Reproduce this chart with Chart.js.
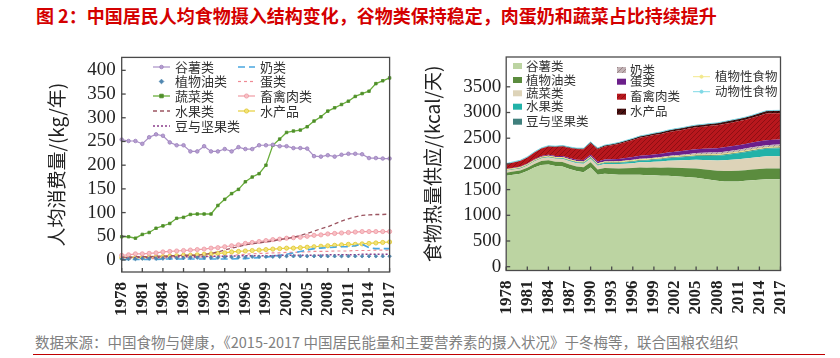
<!DOCTYPE html>
<html><head><meta charset="utf-8">
<script src="https://cdn.jsdelivr.net/npm/chart.js@4/dist/chart.umd.min.js"></script>
<style>
body{margin:0;width:840px;height:358px;background:#fff;position:relative;overflow:hidden;font-family:"Noto Sans CJK SC",sans-serif}
#title{position:absolute;left:36px;top:5px;line-height:20px;font-size:18px;font-weight:bold;color:#d40000;white-space:nowrap}
#src{position:absolute;left:35px;top:333px;line-height:18px;font-size:14.5px;color:#808080;white-space:nowrap}
#rule{position:absolute;left:33px;top:354px;width:792px;height:0;border-top:1.5px solid #c00000}
canvas{position:absolute;top:40px}
</style></head><body>
<div id="title">图 2：中国居民人均食物摄入结构变化，谷物类保持稳定，肉蛋奶和蔬菜占比持续提升</div>
<canvas id="c1" width="420" height="290" style="left:0"></canvas>
<canvas id="c2" width="420" height="290" style="left:420px"></canvas>
<div id="src">数据来源：中国食物与健康，《2015-2017 中国居民能量和主要营养素的摄入状况》于冬梅等，联合国粮农组织</div>
<div id="rule"></div>
<script>
// ---------- data ----------
const years = [1978,1979,1980,1981,1982,1983,1984,1985,1986,1987,1988,1989,1990,1991,1992,1993,1994,1995,1996,1997,1998,1999,2000,2001,2002,2003,2004,2005,2006,2007,2008,2009,2010,2011,2012,2013,2014,2015,2016,2017];
const leftTicks = [0,50,100,150,200,250,300,350,400];
const rightTicks = [0,500,1000,1500,2000,2500,3000,3500];

// left: kg per year
const grainKg  = [254,251,251,245,259,265,262,248,242,242,229,229,240,229,229,234,229,238,234,234,242,242,243,240,240,236,236,235,219,218,221,218,222,224,224,223,215,215,214,214];
const oilKg    = [2,2,2,3,3,3,3,4,4,4,5,5,5,5,5,6,6,6,6,7,7,7,7,7,8,8,8,8,8,8,8,8,8,8,8,8,8,8,8,8];
const vegKg    = [49,49,46,54,58,67,72,77,88,90,96,97,97,97,115,128,140,149,165,175,182,200,242,255,269,272,274,281,293,302,314,321,328,335,345,351,356,372,378,384];
const fruitKg  = [6,6,7,7,7,8,8,9,9,10,10,10,12,14,17,21,25,28,32,34,36,38,40,43,45,48,52,56,61,66,70,76,82,87,91,94,95,96,96,97];
const beanKg   = [5,5,5,6,6,6,6,7,7,7,7,7,8,8,8,8,8,9,9,9,9,9,9,10,10,10,10,10,10,10,11,11,11,11,11,12,12,12,12,12];
const milkKg   = [1,1,1,1,1,1,2,2,2,2,2,2,2,2,2,2,2,3,3,4,5,6,8,10,12,15,18,21,24,25,26,27,28,28,30,33,26,24,24,24];
const eggKg    = [2,2,2,3,3,3,4,5,5,6,6,6,7,7,8,9,10,11,12,13,14,14,15,15,16,16,17,17,18,18,18,19,19,19,20,20,20,21,21,21];
const meatKg   = [10,11,13,13,14,15,17,18,19,20,21,22,23,25,26,28,30,32,35,37,39,41,43,44,46,47,48,50,52,53,55,56,57,58,59,60,60,60,60,60];
const fishKg   = [5,5,5,5,6,6,7,8,9,10,10,11,12,13,14,15,17,18,19,20,21,22,23,24,25,25,26,27,28,29,30,31,32,33,33,34,35,36,37,38];

// right: kcal per day
const cerealK = [1770,1790,1810,1860,1930,1980,1990,1960,1950,1900,1860,1840,1930,1790,1810,1800,1790,1790,1790,1790,1780,1780,1770,1770,1760,1750,1740,1730,1710,1690,1670,1660,1660,1660,1670,1680,1690,1700,1700,1700];
const oilK    = [60,60,60,65,70,75,80,80,85,90,90,95,100,100,110,115,120,125,130,140,145,150,155,160,165,170,175,180,185,190,195,200,200,205,205,210,210,210,210,210];
const vegK    = [35,35,38,40,45,50,55,58,60,62,65,68,72,75,78,82,86,90,95,100,105,112,120,130,140,150,160,170,180,190,200,210,220,225,230,232,235,238,240,240];
const fruitK  = [5,5,5,6,6,7,8,9,10,11,12,13,15,16,18,20,22,25,28,32,36,40,45,50,55,60,66,72,78,85,92,100,108,115,122,130,138,145,150,155];
const beanK   = [18,18,18,18,18,18,19,19,19,19,19,20,20,20,20,20,20,21,21,21,21,21,22,22,22,22,22,22,23,23,23,23,23,24,24,24,24,25,25,25];
const milkK   = [5,5,5,5,6,6,7,7,8,8,9,9,10,10,11,12,13,14,15,16,17,18,20,22,25,28,32,36,40,42,44,45,46,47,48,48,48,47,47,47];
const eggK    = [10,11,12,13,15,17,20,22,24,26,28,30,32,35,38,42,46,50,54,58,62,64,66,68,70,72,74,76,78,80,82,84,86,88,90,92,94,96,98,100];
const meatK   = [95,105,112,118,130,145,160,175,185,195,205,210,225,240,255,270,290,310,330,350,365,375,385,395,405,410,420,425,430,440,445,455,460,465,470,480,500,520,515,510];
const fishK   = [10,10,10,11,12,13,14,15,16,18,19,20,22,23,25,27,29,31,33,35,37,38,39,40,41,42,43,44,45,46,47,48,49,50,51,52,53,54,55,55];
const plantK  = [1888,1908,1931,1989,2069,2130,2152,2126,2124,2082,2046,2036,2137,2001,2036,2037,2038,2051,2064,2083,2087,2103,2112,2132,2142,2152,2163,2174,2176,2178,2180,2193,2211,2229,2251,2276,2297,2318,2325,2330];
const animalK = [2008,2039,2070,2136,2232,2311,2353,2345,2357,2329,2307,2305,2426,2309,2365,2388,2416,2456,2496,2542,2568,2598,2622,2657,2683,2704,2732,2755,2769,2786,2798,2825,2852,2879,2910,2948,2992,3035,3040,3042];

// ---------- helpers ----------
const SERIF = "'Liberation Serif', 'DejaVu Serif', serif";
const CJK = "'Noto Sans CJK SC', sans-serif";
const labelCb = (v, i) => ((years[i] - 1978) % 3 === 0 ? String(years[i]) : '');

function marker(ctx, style, r, x, y, fill, stroke) {
  ctx.save(); ctx.setLineDash([]); ctx.fillStyle = fill; ctx.strokeStyle = stroke; ctx.lineWidth = 0.8;
  ctx.beginPath();
  if (style === 'rect') ctx.rect(x - r, y - r, 2 * r, 2 * r);
  else if (style === 'rectRot') { ctx.moveTo(x, y - r * 1.3); ctx.lineTo(x + r * 1.3, y); ctx.lineTo(x, y + r * 1.3); ctx.lineTo(x - r * 1.3, y); ctx.closePath(); }
  else ctx.arc(x, y, r, 0, Math.PI * 2);
  ctx.fill(); ctx.stroke(); ctx.restore();
}

const framePlugin = {
  id: 'frame',
  afterDatasetsDraw(chart) {
    const { ctx, chartArea: a, scales } = chart;
    ctx.save();
    ctx.strokeStyle = '#4a4a4a'; ctx.lineWidth = 1.3; ctx.setLineDash([]);
    ctx.strokeRect(a.left, a.top, a.right - a.left, a.bottom - a.top);
    scales.y.ticks.forEach(t => {
      const y = scales.y.getPixelForValue(t.value);
      ctx.beginPath(); ctx.moveTo(a.left, y); ctx.lineTo(a.left + 4, y); ctx.stroke();
    });
    years.forEach((yr, i) => {
      if ((yr - 1978) % 3 === 0) {
        const x = scales.x.getPixelForValue(i);
        ctx.beginPath(); ctx.moveTo(x, a.bottom); ctx.lineTo(x, a.bottom - 4); ctx.stroke();
      }
    });
    ctx.restore();
  }
};

function yAxis(min, max, tickVals, title, width) {
  return {
    min, max,
    afterBuildTicks(s) { s.ticks = tickVals.map(v => ({ value: v })); },
    grid: { display: false, drawTicks: false }, border: { display: false },
    ticks: { padding: 6, color: '#222', font: { family: SERIF, size: 19 }, callback: v => String(v) },
    title: { display: true, text: title, color: '#222', font: { family: CJK, size: 19 }, padding: { top: 0, bottom: 0 } },
    afterFit(s) { s.width = width; }
  };
}
function xAxis(height) {
  return {
    type: 'category', offset: false,
    grid: { display: false, drawTicks: false }, border: { display: false },
    ticks: { autoSkip: false, minRotation: 90, maxRotation: 90, padding: 10, color: '#222',
             font: { family: SERIF, size: 17, weight: 'bold' }, callback: labelCb },
    afterFit(s) { s.height = height; }
  };
}

// ---------- left chart ----------
const leftSets = [
  { label: '谷薯类', data: grainKg, borderColor: '#a98fc6', pointBackgroundColor: '#b59ed0', pointBorderColor: '#9c80bc', pointStyle: 'circle', pointRadius: 1.8, borderWidth: 1.2 },
  { label: '植物油类', data: oilKg, borderColor: '#4f86b0', pointBackgroundColor: '#4f86b0', pointBorderColor: '#4f86b0', pointStyle: 'rectRot', pointRadius: 1.8, showLine: false },
  { label: '蔬菜类', data: vegKg, borderColor: '#6aae3c', pointBackgroundColor: '#4f8f2a', pointBorderColor: '#4f8f2a', pointStyle: 'rect', pointRadius: 1.8, borderWidth: 1.3 },
  { label: '水果类', data: fruitKg, borderColor: '#9c5561', borderDash: [4, 3], pointRadius: 0, borderWidth: 1.3 },
  { label: '豆与坚果类', data: beanKg, borderColor: '#8b3d8b', borderDash: [2, 2], pointRadius: 0, borderWidth: 1.5 },
  { label: '奶类', data: milkKg, borderColor: '#4aa6e0', borderDash: [7, 4], pointRadius: 0, borderWidth: 1.6 },
  { label: '蛋类', data: eggKg, borderColor: '#ee8a94', borderDash: [3, 3], pointRadius: 0, borderWidth: 1.2 },
  { label: '畜禽肉类', data: meatKg, borderColor: '#f09aa3', pointBackgroundColor: '#f7c0c5', pointBorderColor: '#ee98a2', pointStyle: 'circle', pointRadius: 2.1, borderWidth: 1.2 },
  { label: '水产品', data: fishKg, borderColor: '#e6cf3a', pointBackgroundColor: '#f2e27a', pointBorderColor: '#e0c830', pointStyle: 'circle', pointRadius: 2.1, borderWidth: 1.2 }
];
leftSets.forEach(d => { d.fill = false; d.tension = 0; d.backgroundColor = d.borderColor; d.pointBorderWidth = 0.8; });

const leftLegendPos = [
  [153, 27], [153, 41.5], [153, 56], [153, 71], [153, 86],
  [238, 27], [238, 41.5], [238, 56], [238, 71]
];
const leftLegend = {
  id: 'leftLegend',
  afterDraw(chart) {
    const ctx = chart.ctx;
    ctx.save();
    chart.data.datasets.forEach((d, i) => {
      const [x, y] = leftLegendPos[i];
      if (d.showLine !== false) {
        ctx.strokeStyle = d.borderColor; ctx.lineWidth = d.borderWidth || 1.2;
        ctx.setLineDash(d.borderDash || []);
        ctx.beginPath(); ctx.moveTo(x, y); ctx.lineTo(x + 17, y); ctx.stroke();
      }
      if (d.pointRadius > 0) marker(ctx, d.pointStyle, d.pointRadius, x + 8.5, y, d.pointBackgroundColor, d.pointBorderColor);
      ctx.setLineDash([]);
      ctx.fillStyle = '#333'; ctx.font = "13px " + CJK; ctx.textBaseline = 'middle'; ctx.textAlign = 'left';
      ctx.fillText(d.label, x + 22, y);
    });
    ctx.restore();
  }
};

new Chart(document.getElementById('c1'), {
  type: 'line',
  data: { labels: years, datasets: leftSets },
  options: {
    responsive: false, animation: false, devicePixelRatio: 1,
    layout: { padding: { left: 45, top: 17, right: 17.5, bottom: 0 } },
    plugins: { legend: { display: false }, tooltip: { enabled: false } },
    scales: { x: xAxis(58), y: yAxis(-25.3, 427.3, leftTicks, '人均消费量/(kg/年)', 76.7) }
  },
  plugins: [framePlugin, leftLegend]
});

// ---------- right chart ----------
const c2 = document.getElementById('c2');
const c2ctx = c2.getContext('2d');
function hatch(bg, fg) {
  const c = document.createElement('canvas'); c.width = 5; c.height = 5;
  const x = c.getContext('2d');
  x.fillStyle = bg; x.fillRect(0, 0, 5, 5);
  x.strokeStyle = fg; x.lineWidth = 1;
  x.beginPath(); x.moveTo(-1, 6); x.lineTo(6, -1); x.stroke();
  return c2ctx.createPattern(c, 'repeat');
}
const areaDefs = [
  ['谷薯类', cerealK, '#bcd4a2'],
  ['植物油类', oilK, '#5b8c3e'],
  ['蔬菜类', vegK, '#ddd3b8'],
  ['水果类', fruitK, '#22b2a8'],
  ['豆与坚果类', beanK, '#3f7f7c'],
  ['奶类', milkK, hatch('#c3b3b6', '#978487')],
  ['蛋类', eggK, '#6b1f8a'],
  ['畜禽肉类', meatK, hatch('#b8171d', '#8e0e13')],
  ['水产品', fishK, hatch('#4a1010', '#1e0505')]
];
const rightSets = areaDefs.map((d, i) => ({
  label: d[0], data: d[1], backgroundColor: d[2], borderColor: 'rgba(0,0,0,0)', borderWidth: 0,
  pointRadius: 0, tension: 0, fill: i === 0 ? 'start' : '-1', stack: 'food'
}));
rightSets.push({ label: '植物性食物', data: plantK, borderColor: '#f3e88c', backgroundColor: '#f3e88c', borderWidth: 1, pointRadius: 0, fill: false, stack: 'plant', order: -1 });
rightSets.push({ label: '动物性食物', data: animalK, borderColor: '#7fd9e6', backgroundColor: '#7fd9e6', borderWidth: 1, pointRadius: 0, fill: false, stack: 'animal', order: -1 });

const rightLegendPos = [
  [93, 26], [93, 40], [93, 53.3], [93, 66.7], [93, 81.7],
  [197, 30], [197, 41.7], [197, 56.7], [197, 71.7],
  [273, 36.7], [273, 51.7]
];
const rightLegend = {
  id: 'rightLegend',
  afterDraw(chart) {
    const ctx = chart.ctx;
    ctx.save();
    chart.data.datasets.forEach((d, i) => {
      const [x, y] = rightLegendPos[i];
      let tx;
      if (i < 9) {
        ctx.fillStyle = d.backgroundColor; ctx.fillRect(x, y - 3, 9, 6);
        tx = x + 13;
      } else {
        ctx.strokeStyle = d.borderColor; ctx.lineWidth = 1;
        ctx.beginPath(); ctx.moveTo(x, y); ctx.lineTo(x + 17, y); ctx.stroke();
        marker(ctx, 'circle', 1.6, x + 8.5, y, d.borderColor, d.borderColor);
        tx = x + 22;
      }
      ctx.fillStyle = '#333'; ctx.font = "12.5px " + CJK; ctx.textBaseline = 'middle'; ctx.textAlign = 'left';
      ctx.fillText(d.label, tx, y);
    });
    ctx.restore();
  }
};

const yR = yAxis(-74, 4080, rightTicks, '食物热量供应/(kcal/天)', 85.2);
yR.stacked = true;
yR.ticks.padding = 5;
new Chart(c2, {
  type: 'line',
  data: { labels: years, datasets: rightSets },
  options: {
    responsive: false, animation: false, devicePixelRatio: 1,
    layout: { padding: { left: 1, top: 17, right: 59.5, bottom: 0 } },
    plugins: { legend: { display: false }, tooltip: { enabled: false }, filler: { propagate: false } },
    scales: { x: xAxis(59.5), y: yR }
  },
  plugins: [framePlugin, rightLegend]
});
</script>
</body></html>
